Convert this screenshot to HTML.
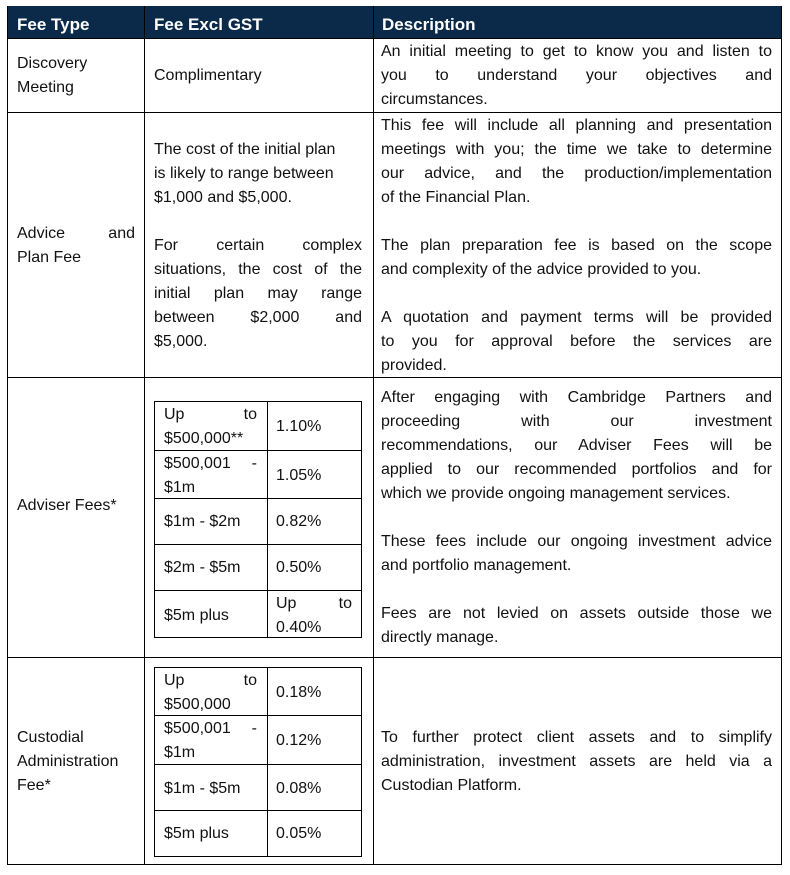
<!DOCTYPE html>
<html><head><meta charset="utf-8"><style>
body{margin:0;width:790px;height:875px;background:#fff;position:relative;font-family:"Liberation Sans",sans-serif;color:#111;overflow:hidden}
.h{position:absolute;background:#000}
.v{position:absolute;background:#000}
.t{position:absolute;font-size:16px;line-height:24px;height:24px;white-space:nowrap}
.j{text-align:justify;text-align-last:justify;white-space:normal;overflow:hidden}
.hd{position:absolute;color:#fff;font-weight:bold;font-size:17px;line-height:24px}
</style></head><body>
<div style="position:absolute;left:7px;top:6px;width:775px;height:32px;background:#0b2a4a"></div>
<div class="hd" style="left:17px;top:13px">Fee Type</div>
<div class="hd" style="left:154px;top:13px">Fee Excl GST</div>
<div class="hd" style="left:382px;top:13px">Description</div>
<div class="h" style="left:7px;top:38px;width:775px;height:1px"></div>
<div class="h" style="left:7px;top:112px;width:775px;height:1px"></div>
<div class="h" style="left:7px;top:377px;width:775px;height:1px"></div>
<div class="h" style="left:7px;top:657px;width:775px;height:1px"></div>
<div class="h" style="left:7px;top:864px;width:775px;height:1px"></div>
<div class="v" style="left:7px;top:6px;width:1px;height:859px"></div>
<div class="v" style="left:144px;top:6px;width:1px;height:859px"></div>
<div class="v" style="left:373px;top:6px;width:1px;height:859px"></div>
<div class="v" style="left:781px;top:6px;width:1px;height:859px"></div>
<div class="t" style="left:17px;top:52px">Discovery</div>
<div class="t" style="left:17px;top:76px">Meeting</div>
<div class="t" style="left:154px;top:64px">Complimentary</div>
<div class="t j" style="left:381px;top:40px;width:391px">An initial meeting to get to know you and listen to</div>
<div class="t j" style="left:381px;top:64px;width:391px">you to understand your objectives and</div>
<div class="t" style="left:381px;top:88px">circumstances.</div>
<div class="t j" style="left:17px;top:222px;width:118px">Advice and</div>
<div class="t" style="left:17px;top:246px">Plan Fee</div>
<div class="t" style="left:154px;top:138px">The cost of the initial plan</div>
<div class="t" style="left:154px;top:162px">is likely to range between</div>
<div class="t" style="left:154px;top:186px">$1,000 and $5,000.</div>
<div class="t j" style="left:154px;top:234px;width:208px">For certain complex</div>
<div class="t j" style="left:154px;top:258px;width:208px">situations, the cost of the</div>
<div class="t j" style="left:154px;top:282px;width:208px">initial plan may range</div>
<div class="t j" style="left:154px;top:306px;width:208px">between $2,000 and</div>
<div class="t" style="left:154px;top:330px">$5,000.</div>
<div class="t j" style="left:381px;top:114px;width:391px">This fee will include all planning and presentation</div>
<div class="t j" style="left:381px;top:138px;width:391px">meetings with you; the time we take to determine</div>
<div class="t j" style="left:381px;top:162px;width:391px">our advice, and the production/implementation</div>
<div class="t" style="left:381px;top:186px">of the Financial Plan.</div>
<div class="t j" style="left:381px;top:234px;width:391px">The plan preparation fee is based on the scope</div>
<div class="t" style="left:381px;top:258px">and complexity of the advice provided to you.</div>
<div class="t j" style="left:381px;top:306px;width:391px">A quotation and payment terms will be provided</div>
<div class="t j" style="left:381px;top:330px;width:391px">to you for approval before the services are</div>
<div class="t" style="left:381px;top:354px">provided.</div>
<div class="t" style="left:17px;top:494px">Adviser Fees*</div>
<div class="h" style="left:154px;top:401px;width:208px;height:1px"></div>
<div class="h" style="left:154px;top:450px;width:208px;height:1px"></div>
<div class="h" style="left:154px;top:498px;width:208px;height:1px"></div>
<div class="h" style="left:154px;top:544px;width:208px;height:1px"></div>
<div class="h" style="left:154px;top:590px;width:208px;height:1px"></div>
<div class="h" style="left:154px;top:637px;width:208px;height:1px"></div>
<div class="v" style="left:154px;top:401px;width:1px;height:237px"></div>
<div class="v" style="left:267px;top:401px;width:1px;height:237px"></div>
<div class="v" style="left:361px;top:401px;width:1px;height:237px"></div>
<div class="t j" style="left:164px;top:403px;width:93px">Up to</div>
<div class="t" style="left:164px;top:427px">$500,000**</div>
<div class="t" style="left:276px;top:415px">1.10%</div>
<div class="t j" style="left:164px;top:452px;width:93px">$500,001 -</div>
<div class="t" style="left:164px;top:476px">$1m</div>
<div class="t" style="left:276px;top:464px">1.05%</div>
<div class="t" style="left:164px;top:510px">$1m - $2m</div>
<div class="t" style="left:276px;top:510px">0.82%</div>
<div class="t" style="left:164px;top:556px">$2m - $5m</div>
<div class="t" style="left:276px;top:556px">0.50%</div>
<div class="t" style="left:164px;top:604px">$5m plus</div>
<div class="t j" style="left:276px;top:592px;width:76px">Up to</div>
<div class="t" style="left:276px;top:616px">0.40%</div>
<div class="t j" style="left:381px;top:386px;width:391px">After engaging with Cambridge Partners and</div>
<div class="t j" style="left:381px;top:410px;width:391px">proceeding with our investment</div>
<div class="t j" style="left:381px;top:434px;width:391px">recommendations, our Adviser Fees will be</div>
<div class="t j" style="left:381px;top:458px;width:391px">applied to our recommended portfolios and for</div>
<div class="t" style="left:381px;top:482px">which we provide ongoing management services.</div>
<div class="t j" style="left:381px;top:530px;width:391px">These fees include our ongoing investment advice</div>
<div class="t" style="left:381px;top:554px">and portfolio management.</div>
<div class="t j" style="left:381px;top:602px;width:391px">Fees are not levied on assets outside those we</div>
<div class="t" style="left:381px;top:626px">directly manage.</div>
<div class="t" style="left:17px;top:726px">Custodial</div>
<div class="t" style="left:17px;top:750px">Administration</div>
<div class="t" style="left:17px;top:774px">Fee*</div>
<div class="h" style="left:154px;top:667px;width:208px;height:1px"></div>
<div class="h" style="left:154px;top:715px;width:208px;height:1px"></div>
<div class="h" style="left:154px;top:764px;width:208px;height:1px"></div>
<div class="h" style="left:154px;top:810px;width:208px;height:1px"></div>
<div class="h" style="left:154px;top:856px;width:208px;height:1px"></div>
<div class="v" style="left:154px;top:667px;width:1px;height:190px"></div>
<div class="v" style="left:267px;top:667px;width:1px;height:190px"></div>
<div class="v" style="left:361px;top:667px;width:1px;height:190px"></div>
<div class="t j" style="left:164px;top:669px;width:93px">Up to</div>
<div class="t" style="left:164px;top:693px">$500,000</div>
<div class="t" style="left:276px;top:681px">0.18%</div>
<div class="t j" style="left:164px;top:717px;width:93px">$500,001 -</div>
<div class="t" style="left:164px;top:741px">$1m</div>
<div class="t" style="left:276px;top:729px">0.12%</div>
<div class="t" style="left:164px;top:777px">$1m - $5m</div>
<div class="t" style="left:276px;top:777px">0.08%</div>
<div class="t" style="left:164px;top:822px">$5m plus</div>
<div class="t" style="left:276px;top:822px">0.05%</div>
<div class="t j" style="left:381px;top:726px;width:391px">To further protect client assets and to simplify</div>
<div class="t j" style="left:381px;top:750px;width:391px">administration, investment assets are held via a</div>
<div class="t" style="left:381px;top:774px">Custodian Platform.</div>
</body></html>
